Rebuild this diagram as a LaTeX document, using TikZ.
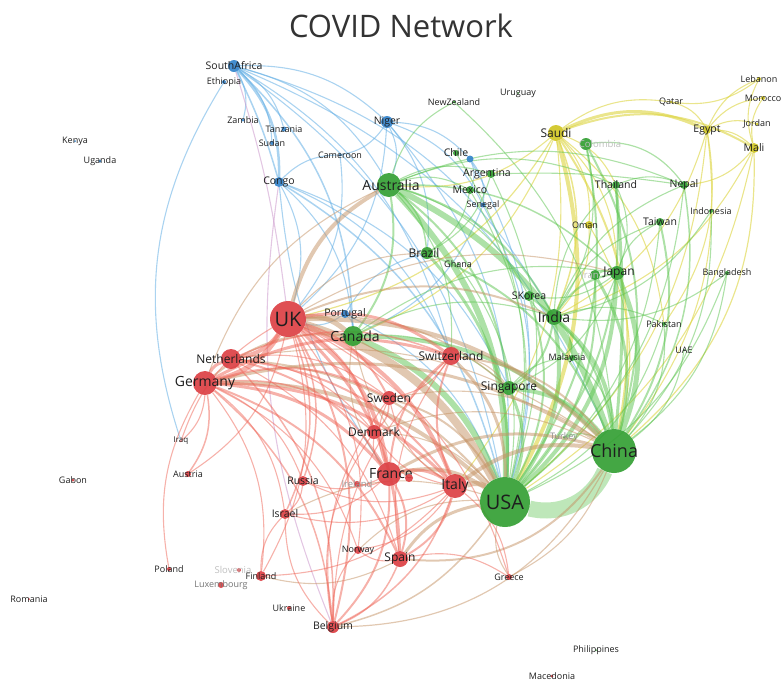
\documentclass[tikz,border=0pt]{standalone}
\usepackage{fontspec}
\setmainfont{Open Sans}
\usetikzlibrary{backgrounds}
\definecolor{redc}{RGB}{220,64,68}
\definecolor{greenc}{RGB}{52,160,52}
\definecolor{bluec}{RGB}{52,132,204}
\definecolor{yellowc}{RGB}{208,198,36}
\definecolor{redl}{RGB}{238,100,86}
\definecolor{greenl}{RGB}{92,196,80}
\definecolor{bluel}{RGB}{100,175,228}
\definecolor{yellowl}{RGB}{220,212,64}
\definecolor{tanl}{RGB}{196,146,100}
\definecolor{labc}{RGB}{30,30,30}
\tikzstyle{redball} = [circle, fill=redc, fill opacity=.92, inner sep=0pt]
\tikzstyle{greenball} = [circle, fill=greenc, fill opacity=.92, inner sep=0pt]
\tikzstyle{blueball} = [circle, fill=bluec, fill opacity=.92, inner sep=0pt]
\tikzstyle{yellowball} = [circle, fill=yellowc, fill opacity=.92, inner sep=0pt]
\tikzstyle{labtiny} = [font=\fontsize{9}{9}\selectfont, text=labc, inner sep=0pt]
\tikzstyle{labsmall} = [font=\fontsize{10.5}{10.5}\selectfont, text=labc, inner sep=0pt]
\tikzstyle{labmid} = [font=\fontsize{12}{12}\selectfont, text=labc, inner sep=0pt]
\tikzstyle{labbig} = [font=\fontsize{14}{14}\selectfont, text=labc, inner sep=0pt]
\tikzstyle{labhuge} = [font=\fontsize{20}{20}\selectfont, text=labc, inner sep=0pt]
\tikzstyle{labfaint} = [font=\fontsize{9.5}{9.5}\selectfont, text=black!25, inner sep=0pt]
\tikzstyle{link} = [line width=1.1pt, bend left=22]
\tikzstyle{redlink} = [link, draw=redl, draw opacity=.5]
\tikzstyle{greenlink} = [link, draw=greenl, draw opacity=.5]
\tikzstyle{bluelink} = [link, draw=bluel, draw opacity=.55]
\tikzstyle{yellowlink} = [link, draw=yellowl, draw opacity=.6]
\tikzstyle{tanlink} = [link, draw=tanl, draw opacity=.5]
\begin{document}
\begin{tikzpicture}[x=1pt, y=-1pt]
        \useasboundingbox (0,0) rectangle (781,681);
        \node (title) [font=\fontsize{31}{31}\selectfont, text=black!80] at (401,26) {COVID Network};

        % Blue cluster
        \node (southafrica) [blueball, minimum size=12, label={[labsmall]center:SouthAfrica}] at (234,66) {};
        \node (ethiopia) [blueball, minimum size=4, label={[labtiny]center:Ethiopia}] at (224,82) {};
        \node (zambia) [blueball, minimum size=3, label={[labtiny]center:Zambia}] at (243,120) {};
        \node (tanzania) [blueball, minimum size=5, label={[labtiny]center:Tanzania}] at (284,129) {};
        \node (sudan) [blueball, minimum size=4, label={[labtiny]center:Sudan}] at (272,143) {};
        \node (cameroon) [blueball, minimum size=3, label={[labtiny]center:Cameroon}] at (340,155) {};
        \node (congo) [blueball, minimum size=10, label={[labsmall]center:Congo}] at (279,182) {};
        \node (niger) [blueball, minimum size=12, label={[labsmall]center:Niger}] at (387,122) {};
        \node (bluedot) [blueball, minimum size=7] at (470,159) {};
        \node (senegal) [blueball, minimum size=5, label={[labtiny]center:Senegal}] at (483,205) {};
        \node (portugal) [blueball, minimum size=8, label={[labsmall]center:Portugal}] at (345,314) {};
        \node (kenya) [blueball, minimum size=2, label={[labtiny]center:Kenya}] at (75,141) {};
        \node (uganda) [blueball, minimum size=3, label={[labtiny]center:Uganda}] at (100,161) {};

        % Green cluster
        \node (australia) [greenball, minimum size=24, label={[labbig, xshift=2]center:Australia}] at (389,185) {};
        \node (newzealand) [greenball, minimum size=3, label={[labtiny]center:NewZealand}] at (454,102) {};
        \node (uruguay) [greenball, minimum size=2, label={[labtiny]center:Uruguay}] at (518,93) {};
        \node (chile) [greenball, minimum size=6, label={[labsmall]center:Chile}] at (456,153) {};
        \node (argentina) [greenball, minimum size=8, label={[labsmall, xshift=-4]center:Argentina}] at (491,174) {};
        \node (mexico) [greenball, minimum size=8, label={[labsmall]center:Mexico}] at (470,190) {};
        \node (brazil) [greenball, minimum size=12, label={[labmid, xshift=-3]center:Brazil}] at (427,253) {};
        \node (ghana) [greenball, minimum size=3, label={[labtiny]center:Ghana}] at (458,264) {};
        \node (colombia) [greenball, minimum size=12, label={[labfaint, xshift=14]center:Colombia}] at (586,144) {};
        \node (iran) [greenball, minimum size=10, label={[labfaint, xshift=-5]center:Iran}] at (595,275) {};
        \node (japan) [greenball, minimum size=14, label={[labmid, xshift=2]center:Japan}] at (617,273) {};
        \node (skorea) [greenball, minimum size=10, label={[labsmall]center:SKorea}] at (529,296) {};
        \node (india) [greenball, minimum size=16, label={[labbig]center:India}] at (554,317) {};
        \node (thailand) [greenball, minimum size=8, label={[labsmall]center:Thailand}] at (616,185) {};
        \node (nepal) [greenball, minimum size=8, label={[labsmall]center:Nepal}] at (684,185) {};
        \node (taiwan) [greenball, minimum size=8, label={[labsmall]center:Taiwan}] at (660,222) {};
        \node (indonesia) [greenball, minimum size=4, label={[labtiny]center:Indonesia}] at (711,211) {};
        \node (bangladesh) [greenball, minimum size=4, label={[labtiny]center:Bangladesh}] at (727,273) {};
        \node (pakistan) [greenball, minimum size=4, label={[labtiny]center:Pakistan}] at (664,324) {};
        \node (uae) [greenball, minimum size=2, label={[labtiny]center:UAE}] at (684,350) {};
        \node (malaysia) [greenball, minimum size=6, label={[labtiny, xshift=-5]center:Malaysia}] at (572,358) {};
        \node (singapore) [greenball, minimum size=14, label={[labmid]center:Singapore}] at (509,388) {};
        \node (turkey) [greenball, minimum size=2, label={[labtiny, text=black!45]center:Turkey}] at (564,437) {};
        \node (canada) [greenball, minimum size=20, label={[labbig, xshift=2]center:Canada}] at (353,336) {};
        \node (china) [greenball, minimum size=44, label={[labhuge, font=\fontsize{18}{18}\selectfont]center:China}] at (614,451) {};
        \node (usa) [greenball, minimum size=50, label={[labhuge]center:USA}] at (505,502) {};
        \node (philippines) [greenball, minimum size=2, label={[labtiny]center:Philippines}] at (596,650) {};

        % Yellow cluster
        \node (saudi) [yellowball, minimum size=16, label={[labmid]center:Saudi}] at (556,133) {};
        \node (qatar) [yellowball, minimum size=3, label={[labtiny]center:Qatar}] at (671,102) {};
        \node (lebanon) [yellowball, minimum size=4, label={[labtiny]center:Lebanon}] at (759,79) {};
        \node (morocco) [yellowball, minimum size=4, label={[labtiny]center:Morocco}] at (763,98) {};
        \node (jordan) [yellowball, minimum size=3, label={[labtiny]center:Jordan}] at (757,124) {};
        \node (egypt) [yellowball, minimum size=8, label={[labsmall]center:Egypt}] at (707,130) {};
        \node (mali) [yellowball, minimum size=10, label={[labsmall]center:Mali}] at (754,148) {};
        \node (oman) [yellowball, minimum size=8, label={[labtiny, xshift=-4]center:Oman}] at (589,225) {};

        % Red cluster
        \node (uk) [redball, minimum size=36, label={[labhuge]center:UK}] at (288,319) {};
        \node (netherlands) [redball, minimum size=20, label={[labmid]center:Netherlands}] at (231,359) {};
        \node (germany) [redball, minimum size=24, label={[labbig]center:Germany}] at (205,383) {};
        \node (switzerland) [redball, minimum size=18, label={[labmid]center:Switzerland}] at (451,356) {};
        \node (sweden) [redball, minimum size=14, label={[labmid]center:Sweden}] at (389,398) {};
        \node (denmark) [redball, minimum size=14, label={[labmid]center:Denmark}] at (374,432) {};
        \node (france) [redball, minimum size=24, label={[labbig, xshift=2]center:France}] at (389,474) {};
        \node (reddot) [redball, minimum size=8] at (409,478) {};
        \node (ireland) [redball, minimum size=6, label={[labfaint, text=black!40]center:Ireland}] at (357,484) {};
        \node (italy) [redball, minimum size=24, label={[labbig]center:Italy}] at (455,486) {};
        \node (russia) [redball, minimum size=10, label={[labsmall]center:Russia}] at (303,481) {};
        \node (israel) [redball, minimum size=10, label={[labsmall]center:Israel}] at (285,514) {};
        \node (iraq) [redball, minimum size=2, label={[labtiny, font=\fontsize{8}{8}\selectfont]center:Iraq}] at (181,441) {};
        \node (austria) [redball, minimum size=6, label={[labtiny]center:Austria}] at (188,474) {};
        \node (gabon) [redball, minimum size=3, label={[labtiny]center:Gabon}] at (73,480) {};
        \node (norway) [redball, minimum size=8, label={[labtiny]center:Norway}] at (358,550) {};
        \node (spain) [redball, minimum size=16, label={[labmid]center:Spain}] at (400,559) {};
        \node (greece) [redball, minimum size=6, label={[labtiny]center:Greece}] at (509,577) {};
        \node (poland) [redball, minimum size=4, label={[labtiny]center:Poland}] at (169,569) {};
        \node (slovenia) [redball, minimum size=4, label={[labfaint, xshift=-6]center:Slovenia}] at (239,570) {};
        \node (luxembourg) [redball, minimum size=6, label={[labtiny, text=black!55]center:Luxembourg}] at (221,585) {};
        \node (finland) [redball, minimum size=10, label={[labtiny]center:Finland}] at (261,576) {};
        \node (ukraine) [redball, minimum size=4, label={[labtiny]center:Ukraine}] at (289,608) {};
        \node (belgium) [redball, minimum size=12, label={[labsmall]center:Belgium}] at (333,627) {};
        \node (romania) [redball, minimum size=2, label={[labtiny]center:Romania}] at (29,599) {};
        \node (macedonia) [redball, minimum size=3, label={[labtiny]center:Macedonia}] at (552,676) {};

        \begin{pgfonlayer}{background}
        % Blue links
        \draw [bluelink, line width=2.5] (southafrica) to (congo);
        \draw [bluelink, line width=1.5] (southafrica) to[bend left=5] (congo);
        \draw [bluelink] (southafrica) to (zambia);
        \draw [bluelink] (southafrica) to (tanzania);
        \draw [bluelink] (southafrica) to (sudan);
        \draw [bluelink, draw=violet!40] (southafrica) to[bend left=5] (uk);
        \draw [bluelink] (southafrica) to (australia);
        \draw [bluelink] (southafrica) to (niger);
        \draw [bluelink] (southafrica) to (india);
        \draw [bluelink] (southafrica) to (china);
        \draw [bluelink] (southafrica) to (usa);
        \draw [bluelink] (southafrica) to (switzerland);
        \draw [bluelink, line width=1.5] (southafrica) to (canada);
        \draw [bluelink] (ethiopia) to[bend right=25] (iraq);
        \draw [bluelink] (congo) to (uk);
        \draw [bluelink, line width=1.5] (congo) to (usa);
        \draw [bluelink] (congo) to (canada);
        \draw [bluelink] (congo) to[bend right=15] (france);
        \draw [bluelink, draw=violet!40] (congo) to[bend right=15] (belgium);
        \draw [bluelink] (congo) to (switzerland);
        \draw [bluelink] (congo) to (cameroon);
        \draw [bluelink] (congo) to (singapore);
        \draw [bluelink] (niger) to (australia);
        \draw [bluelink] (niger) to (bluedot);
        \draw [bluelink] (niger) to (senegal);
        \draw [bluelink] (niger) to (usa);
        \draw [bluelink] (niger) to (uk);
        \draw [bluelink] (niger) to (brazil);
        \draw [bluelink] (niger) to (cameroon);
        \draw [bluelink] (bluedot) to (mexico);
        \draw [bluelink] (bluedot) to (senegal);
        \draw [bluelink] (bluedot) to (usa);
        \draw [bluelink] (senegal) to (usa);
        \draw [bluelink] (senegal) to (canada);
        \draw [bluelink] (portugal) to (uk);
        \draw [bluelink] (portugal) to (canada);
        \draw [bluelink] (portugal) to (brazil);
        \draw [bluelink] (portugal) to (usa);
        \draw [bluelink] (cameroon) to (uk);

        % Yellow links
        \draw [yellowlink, line width=3] (saudi) to[bend left=25] (egypt);
        \draw [yellowlink, line width=2] (saudi) to[bend left=25] (mali);
        \draw [yellowlink] (saudi) to (qatar);
        \draw [yellowlink, line width=4] (saudi) to (usa);
        \draw [yellowlink, line width=2] (saudi) to (china);
        \draw [yellowlink, line width=1.5] (saudi) to (india);
        \draw [yellowlink, line width=1.2] (saudi) to (uk);
        \draw [yellowlink] (saudi) to (oman);
        \draw [yellowlink] (saudi) to (australia);
        \draw [yellowlink] (saudi) to (japan);
        \draw [yellowlink] (saudi) to (pakistan);
        \draw [yellowlink] (saudi) to (canada);
        \draw [yellowlink] (saudi) to (italy);
        \draw [yellowlink] (saudi) to (thailand);
        \draw [yellowlink] (egypt) to (lebanon);
        \draw [yellowlink] (egypt) to (morocco);
        \draw [yellowlink] (egypt) to (jordan);
        \draw [yellowlink] (egypt) to (mali);
        \draw [yellowlink] (egypt) to (china);
        \draw [yellowlink] (egypt) to (india);
        \draw [yellowlink] (egypt) to (usa);
        \draw [yellowlink] (egypt) to (pakistan);
        \draw [yellowlink] (mali) to (lebanon);
        \draw [yellowlink] (mali) to (morocco);
        \draw [yellowlink, line width=1.2] (mali) to[bend left=25] (china);
        \draw [yellowlink] (mali) to (usa);
        \draw [yellowlink] (mali) to (nepal);
        \draw [yellowlink] (mali) to (india);
        \draw [yellowlink] (lebanon) to (qatar);
        \draw [yellowlink] (oman) to (china);
        \draw [yellowlink] (oman) to (india);
        \draw [yellowlink] (qatar) to (egypt);

        % Green links
        \draw [greenlink, line width=16, draw opacity=.4] (usa) to[bend right=40] (china);
        \draw [greenlink, line width=6] (australia) to (china);
        \draw [greenlink, line width=6] (australia) to (usa);
        \draw [greenlink, line width=2] (australia) to (india);
        \draw [greenlink, line width=2] (australia) to (singapore);
        \draw [greenlink, line width=1.5] (australia) to (brazil);
        \draw [greenlink, line width=1.5] (australia) to (japan);
        \draw [greenlink, line width=2] (australia) to (canada);
        \draw [greenlink] (australia) to (newzealand);
        \draw [greenlink] (australia) to (switzerland);
        \draw [greenlink] (australia) to (thailand);
        \draw [greenlink] (australia) to (skorea);
        \draw [greenlink] (australia) to (nepal);
        \draw [greenlink] (australia) to (mexico);
        \draw [greenlink] (australia) to (argentina);
        \draw [greenlink, line width=4] (india) to (usa);
        \draw [greenlink, line width=4] (india) to (china);
        \draw [greenlink, line width=2] (india) to (japan);
        \draw [greenlink, line width=2] (india) to (singapore);
        \draw [greenlink] (india) to (skorea);
        \draw [greenlink] (india) to (nepal);
        \draw [greenlink] (india) to (pakistan);
        \draw [greenlink] (india) to (malaysia);
        \draw [greenlink] (india) to (thailand);
        \draw [greenlink] (india) to (taiwan);
        \draw [greenlink, line width=5] (japan) to (china);
        \draw [greenlink, line width=4] (japan) to (usa);
        \draw [greenlink] (japan) to (skorea);
        \draw [greenlink] (japan) to (taiwan);
        \draw [greenlink] (japan) to (singapore);
        \draw [greenlink, line width=3] (iran) to (china);
        \draw [greenlink, line width=2] (iran) to (usa);
        \draw [greenlink, line width=2] (iran) to (japan);
        \draw [greenlink, line width=3] (thailand) to[bend left=5] (china);
        \draw [greenlink, line width=2] (thailand) to (usa);
        \draw [greenlink] (thailand) to (japan);
        \draw [greenlink] (thailand) to (nepal);
        \draw [greenlink, line width=2] (colombia) to (china);
        \draw [greenlink, line width=2] (colombia) to (usa);
        \draw [greenlink] (colombia) to (india);
        \draw [greenlink, line width=1.2] (colombia) to[bend left=30] (nepal);
        \draw [greenlink, line width=4] (singapore) to (china);
        \draw [greenlink, line width=3] (singapore) to (usa);
        \draw [greenlink] (singapore) to (malaysia);
        \draw [greenlink, line width=6] (canada) to (usa);
        \draw [greenlink, line width=4] (canada) to (china);
        \draw [greenlink] (canada) to (india);
        \draw [greenlink] (canada) to (japan);
        \draw [greenlink] (canada) to (singapore);
        \draw [greenlink, line width=3] (brazil) to (usa);
        \draw [greenlink, line width=2] (brazil) to (china);
        \draw [greenlink, line width=2] (skorea) to (china);
        \draw [greenlink, line width=2] (skorea) to (usa);
        \draw [greenlink, line width=2] (taiwan) to (china);
        \draw [greenlink] (taiwan) to (usa);
        \draw [greenlink, line width=1.5] (nepal) to (china);
        \draw [greenlink] (nepal) to (usa);
        \draw [greenlink] (pakistan) to (china);
        \draw [greenlink] (pakistan) to (usa);
        \draw [greenlink] (bangladesh) to (china);
        \draw [greenlink] (bangladesh) to (india);
        \draw [greenlink] (bangladesh) to (usa);
        \draw [greenlink] (indonesia) to (china);
        \draw [greenlink] (indonesia) to (india);
        \draw [greenlink] (malaysia) to (china);
        \draw [greenlink] (uae) to (china);
        \draw [greenlink] (turkey) to (china);
        \draw [greenlink] (argentina) to (brazil);
        \draw [greenlink] (argentina) to (usa);
        \draw [greenlink] (argentina) to[bend left=5] (nepal);
        \draw [greenlink] (mexico) to (usa);
        \draw [greenlink] (mexico) to (brazil);
        \draw [greenlink] (chile) to (usa);
        \draw [greenlink] (newzealand) to (china);
        \draw [greenlink] (ghana) to (usa);

        % Mixed links between red and green
        \draw [tanlink, line width=8] (uk) to (usa);
        \draw [tanlink, line width=5] (uk) to (canada);
        \draw [tanlink, line width=4] (uk) to (china);
        \draw [tanlink, line width=4] (uk) to (australia);
        \draw [tanlink, line width=4] (germany) to (usa);
        \draw [tanlink, line width=3] (germany) to (china);
        \draw [tanlink, line width=2] (germany) to (canada);
        \draw [tanlink] (germany) to (australia);
        \draw [tanlink, line width=5] (italy) to (usa);
        \draw [tanlink, line width=4] (italy) to (china);
        \draw [tanlink, line width=4] (france) to (usa);
        \draw [tanlink, line width=3] (france) to (china);
        \draw [tanlink] (france) to (canada);
        \draw [tanlink] (italy) to (canada);
        \draw [tanlink, line width=3] (spain) to (usa);
        \draw [tanlink, line width=2] (spain) to[bend right=30] (china);
        \draw [tanlink, line width=3] (switzerland) to (usa);
        \draw [tanlink, line width=2] (switzerland) to (china);
        \draw [tanlink] (switzerland) to (canada);
        \draw [tanlink] (switzerland) to (singapore);
        \draw [tanlink, line width=2] (netherlands) to (usa);
        \draw [tanlink] (netherlands) to (china);
        \draw [tanlink, line width=2] (sweden) to (usa);
        \draw [tanlink] (sweden) to (china);
        \draw [tanlink, line width=2] (uk) to (india);
        \draw [tanlink, line width=1.5] (uk) to (singapore);
        \draw [tanlink] (uk) to (brazil);
        \draw [tanlink] (uk) to (japan);
        \draw [tanlink, line width=1.5] (belgium) to[bend right=20] (usa);
        \draw [tanlink, line width=1.2] (belgium) to[bend right=30] (china);
        \draw [tanlink] (greece) to[bend right=20] (china);
        \draw [tanlink] (greece) to (usa);
        \draw [tanlink] (denmark) to (usa);
        \draw [tanlink] (denmark) to (china);
        \draw [tanlink] (israel) to (usa);
        \draw [tanlink] (norway) to (usa);
        \draw [tanlink] (finland) to[bend right=20] (spain);

        % Red links
        \draw [redlink, line width=5] (uk) to (germany);
        \draw [redlink, line width=4] (uk) to (netherlands);
        \draw [redlink, line width=4] (uk) to (italy);
        \draw [redlink, line width=4] (uk) to (france);
        \draw [redlink, line width=3] (uk) to (switzerland);
        \draw [redlink, line width=3] (uk) to (spain);
        \draw [redlink, line width=2] (uk) to (sweden);
        \draw [redlink, line width=2] (uk) to (denmark);
        \draw [redlink, line width=2] (uk) to (belgium);
        \draw [redlink, line width=1.5] (uk) to (israel);
        \draw [redlink, line width=1.5] (uk) to (russia);
        \draw [redlink] (uk) to (norway);
        \draw [redlink] (uk) to (austria);
        \draw [redlink] (uk) to[bend right=20] (iraq);
        \draw [redlink] (uk) to (greece);
        \draw [redlink] (uk) to (finland);
        \draw [redlink, line width=3] (germany) to (netherlands);
        \draw [redlink, line width=3] (germany) to (france);
        \draw [redlink, line width=3] (germany) to (italy);
        \draw [redlink, line width=3] (germany) to (switzerland);
        \draw [redlink, line width=2] (germany) to (spain);
        \draw [redlink, line width=2] (germany) to (sweden);
        \draw [redlink, line width=1.5] (germany) to (denmark);
        \draw [redlink, line width=1.5] (germany) to (austria);
        \draw [redlink] (germany) to (russia);
        \draw [redlink] (germany) to (israel);
        \draw [redlink, line width=1.5] (germany) to (belgium);
        \draw [redlink] (germany) to (iraq);
        \draw [redlink] (germany) to[bend right=20] (poland);
        \draw [redlink] (germany) to (norway);
        \draw [redlink] (germany) to (finland);
        \draw [redlink, line width=2] (netherlands) to (france);
        \draw [redlink, line width=2] (netherlands) to (italy);
        \draw [redlink, line width=1.5] (netherlands) to (belgium);
        \draw [redlink, line width=1.5] (netherlands) to (switzerland);
        \draw [redlink] (netherlands) to (sweden);
        \draw [redlink] (netherlands) to (spain);
        \draw [redlink] (netherlands) to (denmark);
        \draw [redlink, line width=3] (france) to (italy);
        \draw [redlink, line width=2] (france) to (spain);
        \draw [redlink, line width=2] (france) to (belgium);
        \draw [redlink, line width=2] (france) to (switzerland);
        \draw [redlink] (france) to (russia);
        \draw [redlink] (france) to (israel);
        \draw [redlink] (france) to (denmark);
        \draw [redlink] (france) to (reddot);
        \draw [redlink] (france) to (ireland);
        \draw [redlink] (france) to (sweden);
        \draw [redlink, line width=2] (italy) to (spain);
        \draw [redlink, line width=2] (italy) to (switzerland);
        \draw [redlink] (italy) to (greece);
        \draw [redlink, line width=1.5] (italy) to (belgium);
        \draw [redlink] (italy) to (norway);
        \draw [redlink] (italy) to (russia);
        \draw [redlink] (italy) to (israel);
        \draw [redlink] (italy) to (finland);
        \draw [redlink] (italy) to (sweden);
        \draw [redlink] (italy) to (denmark);
        \draw [redlink, line width=1.5] (spain) to (belgium);
        \draw [redlink] (spain) to (greece);
        \draw [redlink] (spain) to (norway);
        \draw [redlink] (spain) to (switzerland);
        \draw [redlink] (belgium) to (israel);
        \draw [redlink] (belgium) to (norway);
        \draw [redlink] (belgium) to (denmark);
        \draw [redlink] (belgium) to (sweden);
        \draw [redlink] (belgium) to (switzerland);
        \draw [redlink] (finland) to (israel);
        \draw [redlink, line width=1.5] (sweden) to (denmark);
        \draw [redlink] (switzerland) to (sweden);
        \draw [redlink] (russia) to (israel);
        \end{pgfonlayer}
    \end{tikzpicture}
\end{document}
